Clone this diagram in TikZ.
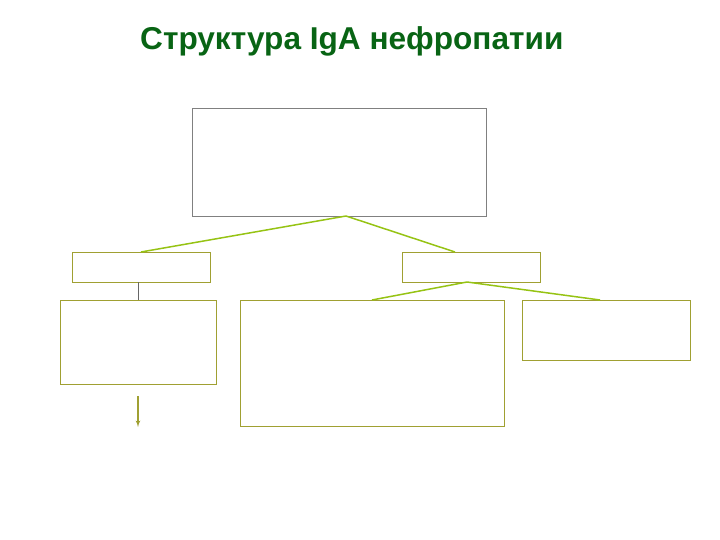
\documentclass[tikz,border=0pt]{standalone}
\usepackage{fontspec}
\newfontfamily\titlefont{Liberation Sans}
\usetikzlibrary{shapes,arrows}
\definecolor{titlegreen}{RGB}{8,100,20}
\definecolor{boxolive}{RGB}{160,160,50}
\definecolor{linegreen}{RGB}{150,195,20}
\tikzstyle{block} = [rectangle, draw=boxolive, line width=0.9pt, inner sep=0pt, outer sep=0pt]
\tikzstyle{topblock} = [rectangle, draw=gray, line width=0.9pt, inner sep=0pt, outer sep=0pt]
\tikzstyle{line} = [draw=linegreen, line width=1.5pt]
\tikzstyle{stem} = [draw=gray!80!black, line width=0.8pt]

\begin{document}
\begin{tikzpicture}[x=1pt, y=-1pt]
    \useasboundingbox (0,0) rectangle (720,540);
    % Title
    \node [anchor=base west, inner sep=0pt, text=titlegreen] (title) at (140,50)
        {\titlefont\fontsize{31.6}{36}\selectfont\bfseries Структура IgA нефропатии};
    % Place nodes
    \node [topblock, minimum width=294pt, minimum height=108pt] (top) at (339,162) {};
    \node [block, minimum width=138pt, minimum height=30pt] (leftsmall) at (141,267) {};
    \node [block, minimum width=138pt, minimum height=30pt] (rightsmall) at (471,267) {};
    \node [block, minimum width=156pt, minimum height=84pt] (lowleft) at (138.5,342) {};
    \node [block, minimum width=264pt, minimum height=126pt] (middle) at (372,363) {};
    \node [block, minimum width=168pt, minimum height=60pt] (lowright) at (606.5,330) {};
    \coordinate (arrowtop) at (138,396);
    \coordinate (arrowend) at (138,427);
    % Draw edges
    \path [line] ([xshift=7pt]top.south) -- (leftsmall.north);
    \path [line] ([xshift=7pt]top.south) -- ([xshift=-16pt]rightsmall.north);
    \path [line] ([xshift=-4pt]rightsmall.south) -- (middle.north);
    \path [line] ([xshift=-4pt]rightsmall.south) -- ([xshift=-6.5pt]lowright.north);
    \path [stem] (lowleft.north) -- (lowleft.north |- leftsmall.south);
    \path [draw=boxolive, line width=1.2pt, -latex'] (arrowtop) -- (arrowend);
\end{tikzpicture}
\end{document}
